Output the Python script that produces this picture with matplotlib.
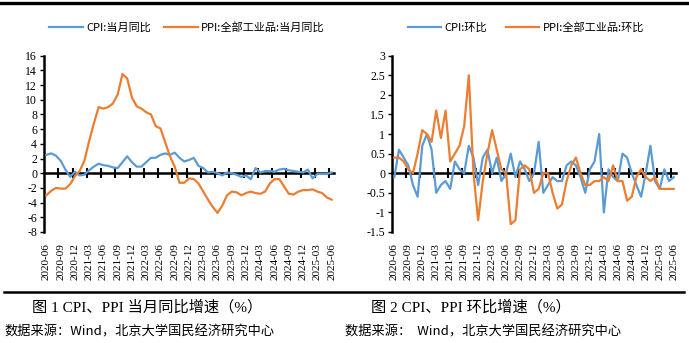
import numpy as np
import pandas as pd
import matplotlib
matplotlib.use("Agg")
import matplotlib.pyplot as plt
from matplotlib.lines import Line2D

plt.rcParams['font.family'] = ['Liberation Serif', 'Noto Sans CJK SC']
plt.rcParams['axes.unicode_minus'] = False

# monthly categories 2020-06 .. 2025-06
months = [p.strftime('%Y-%m') for p in pd.period_range('2020-06', '2025-06', freq='M')]

cpi_yoy = [2.5, 2.7, 2.4, 1.7, 0.5, -0.5, 0.2,
           -0.3, -0.2, 0.4, 0.9, 1.3, 1.1, 1.0, 0.8, 0.7, 1.5, 2.3, 1.5,
           0.9, 0.9, 1.5, 2.1, 2.1, 2.5, 2.7, 2.5, 2.8, 2.1, 1.6, 1.8,
           2.1, 1.0, 0.7, 0.1, 0.2, 0.0, -0.3, 0.1, 0.0, -0.2, -0.5, -0.3,
           -0.8, 0.7, 0.1, 0.3, 0.3, 0.2, 0.5, 0.6, 0.4, 0.3, 0.2, 0.1,
           0.5, -0.7, -0.1, -0.1, -0.1, 0.1]
ppi_yoy = [-3.0, -2.4, -2.0, -2.1, -2.1, -1.5, -0.4,
           0.3, 1.7, 4.4, 6.8, 9.0, 8.8, 9.0, 9.5, 10.7, 13.5, 12.9, 10.3,
           9.1, 8.8, 8.3, 8.0, 6.4, 6.1, 4.2, 2.3, 0.9, -1.3, -1.3, -0.7,
           -0.8, -1.4, -2.5, -3.6, -4.6, -5.4, -4.4, -3.0, -2.5, -2.6, -3.0, -2.7,
           -2.5, -2.7, -2.8, -2.5, -1.4, -0.8, -0.8, -1.8, -2.8, -2.9, -2.5, -2.3,
           -2.3, -2.2, -2.5, -2.7, -3.3, -3.6]
cpi_mom = [-0.1, 0.6, 0.4, 0.2, -0.3, -0.6, 0.7,
           1.0, 0.6, -0.5, -0.3, -0.2, -0.4, 0.3, 0.1, 0.0, 0.7, 0.4, -0.3,
           0.4, 0.6, 0.0, 0.4, -0.2, 0.0, 0.5, -0.1, 0.3, 0.1, -0.2, 0.0,
           0.8, -0.5, -0.3, -0.1, -0.2, -0.2, 0.2, 0.3, 0.2, -0.1, -0.5, 0.1,
           0.3, 1.0, -1.0, 0.1, -0.1, -0.2, 0.5, 0.4, 0.0, -0.3, -0.6, 0.0,
           0.7, -0.2, -0.4, 0.1, -0.2, -0.1]
ppi_mom = [0.4, 0.4, 0.3, 0.1, 0.0, 0.5, 1.1,
           1.0, 0.8, 1.6, 0.9, 1.6, 0.3, 0.5, 0.7, 1.2, 2.5, 0.0, -1.2,
           -0.2, 0.5, 1.1, 0.6, 0.1, 0.0, -1.3, -1.2, 0.1, 0.2, 0.1, -0.5,
           -0.4, 0.0, 0.0, -0.5, -0.9, -0.8, -0.2, 0.2, 0.4, 0.0, -0.3, -0.3,
           -0.2, -0.2, -0.1, -0.2, 0.2, -0.2, -0.2, -0.7, -0.6, -0.1, 0.1, -0.1,
           -0.2, -0.1, -0.4, -0.4, -0.4, -0.4]

yoy_ticks = [16, 14, 12, 10, 8, 6, 4, 2, 0, -2, -4, -6, -8]
mom_ticks = [3, 2.5, 2, 1.5, 1, 0.5, 0, -0.5, -1, -1.5]

BLUE = '#5B9BD5'
ORANGE = '#ED7D31'
W, H = 689, 343

fig = plt.figure(figsize=(W / 100, H / 100), dpi=100)


def px_axes(x0, x1, ytop, ybot):
    return fig.add_axes([x0 / W, 1 - ybot / H, (x1 - x0) / W, (ybot - ytop) / H])


def draw_panel(ax, s1, s2, names, yticks, ylabels, legend_x, colsp):
    x = np.arange(len(months))
    ax.plot(x, s1, color=BLUE, lw=1.6, label=names[0], zorder=3)
    ax.plot(x, s2, color=ORANGE, lw=1.6, label=names[1], zorder=3)
    ax.set_xlim(-0.5, len(months) - 0.5)
    ax.set_ylim(min(yticks), max(yticks))
    for s in ['top', 'right', 'bottom']:
        ax.spines[s].set_visible(False)
    ax.spines['left'].set_linewidth(1.8)
    ax.set_yticks(yticks)
    ax.set_yticklabels(ylabels)
    ax.tick_params(axis='y', length=3, width=1, pad=2, labelsize=8.5)
    ax.set_xticks(x[::3])
    ax.set_xticklabels(months[::3], rotation=90, fontsize=8)
    ax.tick_params(axis='x', length=0, pad=8)
    ax.patch.set_alpha(0)

    # zero line with category boundary ticks
    frac = (0 - min(yticks)) / (max(yticks) - min(yticks))
    sec = ax.secondary_xaxis(frac)
    sec.spines['bottom'].set_linewidth(1.8)
    sec.set_xticks(np.arange(2.5, len(months) - 1, 3))
    sec.tick_params(axis='x', direction='inout', length=7, width=1.5, labelbottom=False)

    leg = fig.legend(handles=ax.get_lines(), loc='center', ncol=2,
                     bbox_to_anchor=(legend_x / W, 1 - 27 / H), frameon=False,
                     prop={'family': ['Noto Sans CJK SC'], 'size': 8},
                     handlelength=3.0, handletextpad=0.3, columnspacing=colsp)
    return leg


ax1 = px_axes(44, 334, 55.7, 232)
draw_panel(ax1, cpi_yoy, ppi_yoy, ['CPI:当月同比', 'PPI:全部工业品:当月同比'],
           yoy_ticks, [str(v) for v in yoy_ticks], 187, 1.2)

ax2 = px_axes(392, 676, 55.7, 232)
draw_panel(ax2, cpi_mom, ppi_mom, ['CPI:环比', 'PPI:全部工业品:环比'],
           mom_ticks, [f'{v:g}' for v in mom_ticks], 526, 1.7)

# frame lines
fig.add_artist(Line2D([0, 1], [1 - 2.5 / H] * 2, color='black', lw=2.4))
fig.add_artist(Line2D([4 / W, 684 / W], [1 - 291.5 / H] * 2, color='black', lw=1.8))

fig.text(147 / W, 1 - 307 / H, '图 1 CPI、PPI 当月同比增速（%）', ha='center', va='center', fontsize=11)
fig.text(471 / W, 1 - 307 / H, '图 2 CPI、PPI 环比增速（%）', ha='center', va='center', fontsize=11)
fig.text(4 / W, 1 - 332 / H, '数据来源：Wind，北京大学国民经济研究中心', ha='left', va='center',
         fontsize=9.5, family=['Noto Sans CJK SC'])
fig.text(345 / W, 1 - 332 / H, '数据来源：  Wind，北京大学国民经济研究中心', ha='left', va='center',
         fontsize=9.5, family=['Noto Sans CJK SC'])

fig.savefig('out.png', dpi=100)
